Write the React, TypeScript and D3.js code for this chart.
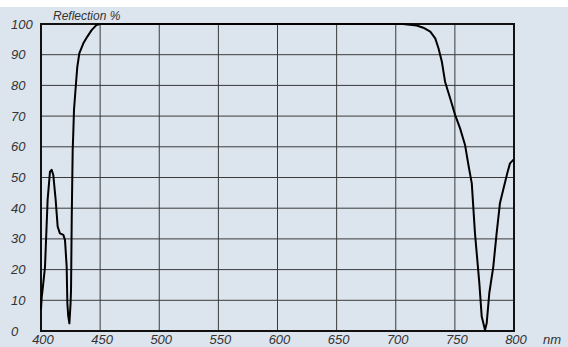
import * as d3 from "d3";
import React from "react";

// wavelength (nm) and reflection (%)
const wavelength = [
  400, 400.6, 401.5, 403.4, 405.6, 407.6, 409, 410.4, 412.4, 414.1, 416, 418.9,
  420.3, 421.7, 422.3, 423, 424, 425, 425.4, 426, 426.8, 427.3, 427.9, 429.6,
  430.7, 432.4, 435.8, 439.2, 442.8, 447, 450, 600, 706, 717.7, 723.3, 729.2,
  733.4, 736.2, 739, 741.7, 746, 750.2, 754.4, 758.6, 761.5, 764.3, 767, 770.7,
  772.7, 775.5, 776.9, 779.1, 782.5, 785.3, 788.1, 791.5, 794.3, 796.6, 800,
];
const reflection = [
  7, 11, 14, 21, 42.7, 51.9, 52.5, 50.8, 42.7, 34, 31.8, 31.3,
  29.6, 21, 9, 5, 2.5, 9, 13.4, 37, 59, 64.4, 72, 80.7,
  86, 90.4, 93.7, 95.9, 98, 99.7, 100, 100, 100, 99.5, 98.8, 97.5,
  95.3, 92, 87.7, 81.2, 75.8, 70.4, 66, 60.6, 54, 48.1, 31.8, 15.5,
  4.7, 0.3, 2.5, 12.3, 21, 31.8, 41.6, 47, 51.4, 54.6, 56,
];
const xTicks = [400, 450, 500, 550, 600, 650, 700, 750, 800];
const yTicks = [0, 10, 20, 30, 40, 50, 60, 70, 80, 90, 100];

const W = 568;
const H = 347;
const margin = { top: 24, right: 54, bottom: 16, left: 41 };
const font = "'Liberation Sans', Arial, sans-serif";

export default function App() {
  const x = d3.scaleLinear().domain([400, 800]).range([margin.left, W - margin.right]);
  const y = d3.scaleLinear().domain([0, 100]).range([H - margin.bottom, margin.top]);

  const pts = wavelength.map((w, i) => [w, reflection[i]] as [number, number]);
  const line = d3.line<[number, number]>()
    .x(d => x(d[0]))
    .y(d => y(d[1]));

  return (
    <svg width={W} height={H} style={{ position: "absolute", left: 0, top: 0 }}>
      <rect x={0} y={0} width={W} height={H} fill="#ffffff" />
      <rect x={0} y={7} width={W} height={H - 7} fill="#dce4ee" />

      {/* grid */}
      {xTicks.map(t => (
        <line key={"gx" + t} x1={x(t)} x2={x(t)} y1={y(0)} y2={y(100)} stroke="#3a3a3a" strokeWidth={1} />
      ))}
      {yTicks.map(t => (
        <line key={"gy" + t} x1={x(400)} x2={x(800)} y1={y(t)} y2={y(t)} stroke="#3a3a3a" strokeWidth={1} />
      ))}

      {/* frame */}
      <rect x={x(400)} y={y(100)} width={x(800) - x(400)} height={y(0) - y(100)}
        fill="none" stroke="#111" strokeWidth={2} />

      <path d={line(pts) || ""} fill="none" stroke="#000" strokeWidth={2} strokeLinejoin="round" />

      {/* labels */}
      {yTicks.map(t => (
        <text key={"ly" + t} x={11} y={y(t)} dy="0.35em" fontFamily={font} fontStyle="italic"
          fontSize={13} fill="#333">{t}</text>
      ))}
      {xTicks.map(t => (
        <text key={"lx" + t} x={x(t) + 2} y={344} textAnchor="middle" fontFamily={font}
          fontStyle="italic" fontSize={13} fill="#333">{t}</text>
      ))}
      <text x={543} y={344} fontFamily={font} fontStyle="italic" fontSize={13} fill="#333">nm</text>
      <text x={53} y={20} fontFamily={font} fontStyle="italic" fontSize={12} fill="#333">Reflection %</text>
    </svg>
  );
}
